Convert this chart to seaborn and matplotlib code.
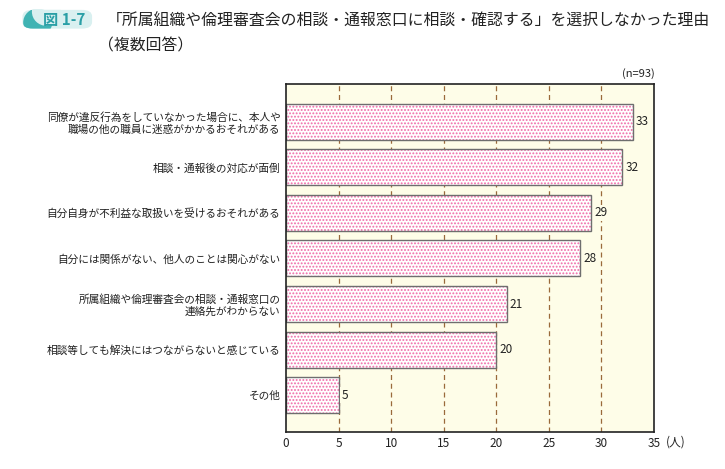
import numpy as np
import pandas as pd
import matplotlib
matplotlib.use('Agg')
import matplotlib.pyplot as plt
from matplotlib.patches import FancyBboxPatch, Ellipse
import seaborn as sns

reasons = [
    '同僚が違反行為をしていなかった場合に、本人や\n職場の他の職員に迷惑がかかるおそれがある',
    '相談・通報後の対応が面倒',
    '自分自身が不利益な取扱いを受けるおそれがある',
    '自分には関係がない、他人のことは関心がない',
    '所属組織や倫理審査会の相談・通報窓口の\n連絡先がわからない',
    '相談等しても解決にはつながらないと感じている',
    'その他',
]
counts = [33, 32, 29, 28, 21, 20, 5]
xticks = [0, 5, 10, 15, 20, 25, 30, 35]

df = pd.DataFrame({'reason': reasons, 'count': counts})

BG = '#fefde8'
sns.set_theme(style='white')
plt.rcParams['font.family'] = ['Noto Sans CJK JP', 'DejaVu Sans']
plt.rcParams['hatch.linewidth'] = 0.9

fig = plt.figure(figsize=(7.25, 4.69), dpi=100)
ax = fig.add_axes([0.3945, 0.0795, 0.5076, 0.7408])
ax.set_facecolor(BG)

# pink dotted fill
sns.barplot(data=df, x='count', y='reason', ax=ax, orient='h', width=0.79,
            color='white', edgecolor='#f06aa8', hatch='.....', linewidth=0,
            saturation=1)
# grey outline on top
sns.barplot(data=df, x='count', y='reason', ax=ax, orient='h', width=0.79,
            fill=False, edgecolor='#6e6e6e', linewidth=1.0)

for x in xticks[1:-1]:
    ax.axvline(x, color='#9a6a3a', lw=0.9, ls=(0, (4, 3)), zorder=0)

for i, v in enumerate(counts):
    ax.text(v + 0.3, i, str(v), va='center', ha='left', fontsize=8.5, color='#222222',
            bbox=dict(facecolor=BG, edgecolor='none', pad=1))

ax.set_xlim(0, 35)
ax.set_ylim(6.8, -0.82)
ax.set_xticks(xticks)
ax.set_xticklabels([str(t) for t in xticks], fontsize=8.5, color='#222222')
ax.tick_params(axis='both', length=0, pad=4)
ax.set_yticks(range(len(reasons)))
ax.set_yticklabels(reasons, fontsize=7.7, color='#222222', multialignment='right')
ax.set_xlabel('')
ax.set_ylabel('')
for s in ax.spines.values():
    s.set_visible(True)
    s.set_color('#222222')
    s.set_linewidth(1.2)

fig.text(0.918, 0.058, '(人)', fontsize=8.5, ha='left', va='center', color='#222222')
fig.text(0.903, 0.844, '(n=93)', fontsize=8, ha='right', va='center', color='#222222')

# header badge
badge = FancyBboxPatch((0.034, 0.942), 0.09, 0.034, boxstyle='round,pad=0.003,rounding_size=0.014',
                       transform=fig.transFigure, facecolor='#d9f0f0', edgecolor='none')
fig.patches.append(badge)
swoosh = Ellipse((0.052, 0.952), 0.04, 0.06, transform=fig.transFigure,
                 facecolor='#3fb3b3', edgecolor='none')
fig.patches.append(swoosh)
swoosh.set_clip_path(badge)
cut = Ellipse((0.064, 0.975), 0.04, 0.06, transform=fig.transFigure,
              facecolor='#d9f0f0', edgecolor='none')
fig.patches.append(cut)
cut.set_clip_path(badge)
fig.text(0.059, 0.958, '図 1-7', fontsize=11, fontweight='bold', color='#2a9fa6', va='center')

fig.text(0.147, 0.955, '「所属組織や倫理審査会の相談・通報窓口に相談・確認する」を選択しなかった理由',
         fontsize=11.4, color='#222222', va='center', ha='left')
fig.text(0.135, 0.902, '（複数回答）', fontsize=11.4, color='#222222', va='center', ha='left')

fig.savefig('out.png', dpi=100)
